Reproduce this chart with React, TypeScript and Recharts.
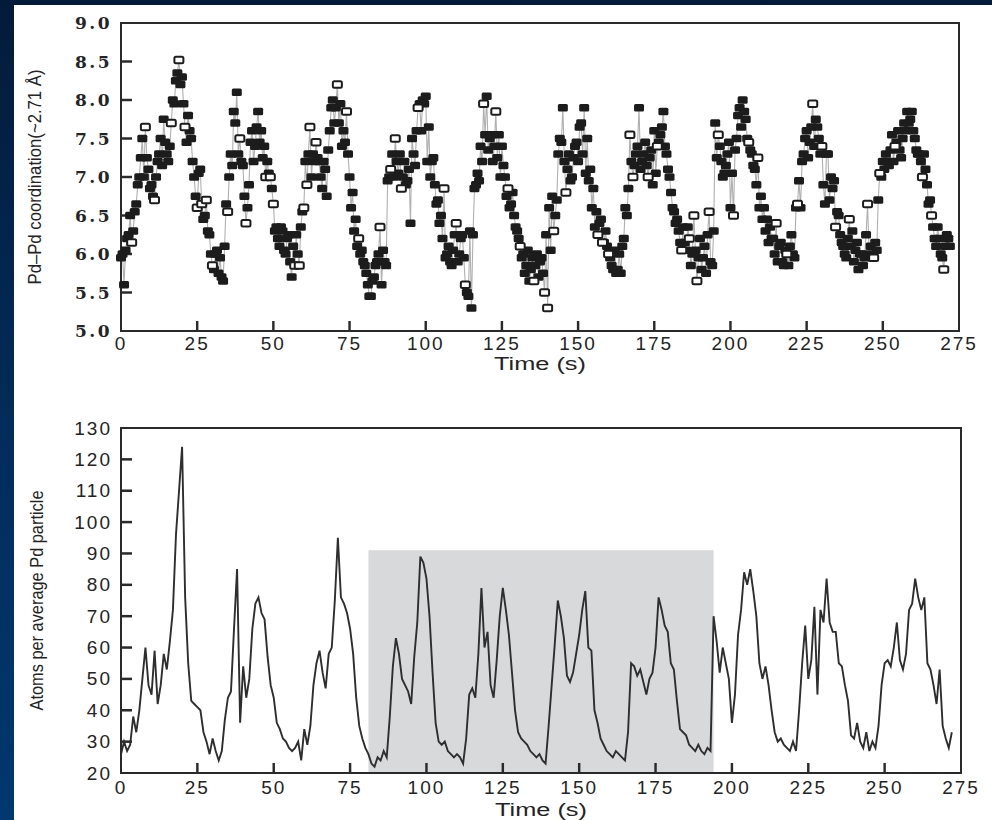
import React from 'react';
import { ComposedChart, Line, Scatter, XAxis, YAxis, ReferenceArea } from 'recharts';

// shared time axis (s)
const timeTicks = [0, 25, 50, 75, 100, 125, 150, 175, 200, 225, 250, 275];
const coordTicks = [5, 5.5, 6, 6.5, 7, 7.5, 8, 8.5, 9];
const atomTicks = [20, 30, 40, 50, 60, 70, 80, 90, 100, 110, 120, 130];

// Pd–Pd coordination on whole seconds, t = 0 … 272 s
const coordination = [
  5.95, 5.6, 6.2, 6.5, 6.3, 6.65, 7.0, 7.5, 7.65, 7.1,
  6.9, 6.7, 7.2, 7.5, 7.75, 7.3, 7.4, 8.0, 8.25, 8.52,
  8.3, 7.65, 7.8, 7.5, 7.0, 6.6, 7.1, 6.45, 6.7, 6.25,
  5.85, 6.0, 5.75, 5.7, 6.1, 6.55, 7.3, 7.85, 8.1, 7.5,
  7.15, 6.4, 6.9, 7.6, 7.4, 7.85, 7.6, 7.4, 7.2, 7.0,
  6.65, 6.35, 6.1, 6.3, 6.0, 6.25, 5.7, 5.85, 6.0, 6.35,
  6.6, 6.9, 7.65, 7.3, 7.45, 7.2, 6.85, 7.1, 7.35, 7.9,
  7.7, 8.2, 7.95, 7.6, 7.85, 7.0, 6.8, 6.45, 6.2, 6.05,
  5.85, 5.6, 5.45, 5.7, 5.9, 6.35, 6.05, 5.85, 7.0, 7.3,
  7.5, 7.05, 6.85, 7.2, 6.95, 6.4, 7.3, 7.6, 7.95, 8.0,
  8.05, 7.65, 7.2, 6.9, 6.7, 6.5, 6.85, 6.0, 5.9, 6.05,
  6.4, 6.0, 6.25, 5.6, 5.45, 5.3, 6.85, 7.05, 7.4, 7.95,
  8.05, 7.5, 7.2, 7.85, 7.55, 7.4, 7.0, 6.85, 6.65, 6.5,
  6.3, 6.1, 6.0, 5.85, 5.65, 5.95, 5.85, 5.7, 5.95, 5.5,
  5.3, 6.05, 6.3, 6.7, 7.5, 7.9, 6.8, 7.3, 7.0, 7.4,
  7.2, 7.7, 7.9, 7.5, 7.1, 6.85, 6.55, 6.4, 6.15, 6.3,
  6.0, 5.85, 6.05, 5.8, 5.75, 6.2, 6.5, 7.55, 7.0, 7.3,
  7.9, 7.2, 7.45, 7.0, 7.35, 7.6, 7.4, 7.55, 7.85, 7.3,
  7.0, 6.6, 6.4, 6.3, 6.05, 6.15, 6.35, 5.85, 6.5, 5.65,
  6.2, 5.95, 5.75, 6.55, 5.85, 7.7, 7.55, 7.2, 7.05, 7.3,
  6.6, 6.5, 7.5, 7.9, 8.0, 7.75, 7.45, 7.3, 7.1, 7.25,
  6.75, 6.6, 6.45, 6.35, 6.2, 6.4, 6.1, 5.9, 6.05, 5.85,
  6.25, 5.95, 6.65, 6.6, 7.3, 7.6, 7.45, 7.95, 7.75, 7.5,
  7.4, 6.65, 7.3, 7.0, 6.95, 6.55, 6.25, 6.1, 5.95, 6.45,
  6.3, 6.05, 5.8, 6.0, 5.95, 6.65, 6.1, 5.95, 6.05, 7.05,
  7.2, 7.3, 7.15, 7.55, 7.4, 7.6, 7.25, 7.7, 7.85, 7.75,
  7.6, 7.35, 7.3, 7.0, 7.1, 6.65, 6.5, 6.2, 6.35, 6.0,
  5.8, 6.25, 6.1,
];

// Pd–Pd coordination on half seconds, t = 0.5 … 271.5 s
const coordinationHalf = [
  6.0, 6.05, 6.25, 6.15, 6.55, 6.9, 7.25, 7.0, 7.25, 6.85,
  6.75, 7.0, 7.3, 7.15, 7.45, 7.2, 7.7, 7.95, 8.35, 8.2,
  7.95, 7.45, 7.6, 7.2, 6.75, 7.05, 6.65, 6.5, 6.3, 6.0,
  5.8, 6.05, 5.95, 5.65, 6.65, 7.0, 7.15, 7.7, 7.3, 7.2,
  6.75, 6.6, 7.45, 7.2, 7.65, 7.45, 7.25, 7.0, 7.05, 6.85,
  6.3, 6.2, 6.35, 6.05, 6.2, 5.9, 6.1, 6.25, 5.85, 6.55,
  7.2, 7.3, 7.0, 7.2, 7.25, 7.0, 7.2, 6.75, 7.6, 8.0,
  7.9, 7.7, 7.4, 7.45, 7.3, 6.6, 6.3, 6.1, 6.0, 5.9,
  5.75, 5.45, 5.65, 5.85, 6.0, 5.6, 5.9, 6.95, 7.1, 7.0,
  7.2, 7.3, 7.0, 6.9, 7.1, 7.5, 7.15, 7.9, 7.6, 7.95,
  7.2, 7.0, 7.25, 6.65, 6.4, 6.2, 5.95, 6.1, 5.85, 6.25,
  5.9, 6.2, 5.95, 5.5, 6.3, 6.25, 6.9, 6.95, 7.2, 7.55,
  7.35, 7.55, 7.4, 7.25, 7.0, 7.15, 6.75, 6.6, 6.8, 6.35,
  6.2, 5.95, 5.75, 6.05, 5.8, 5.65, 6.0, 5.9, 5.75, 6.25,
  6.6, 6.75, 6.5, 7.3, 7.45, 7.2, 7.1, 6.95, 7.25, 7.45,
  7.65, 7.3, 7.05, 6.95, 6.6, 6.35, 6.25, 6.45, 6.15, 6.1,
  5.95, 5.8, 5.75, 6.0, 6.1, 6.6, 6.85, 7.2, 7.15, 7.4,
  7.1, 7.3, 7.15, 7.25, 6.9, 7.05, 7.45, 7.65, 7.4, 7.1,
  6.8, 6.55, 6.45, 6.15, 6.35, 6.05, 6.2, 6.0, 6.05, 5.95,
  5.8, 6.1, 6.25, 5.9, 6.3, 7.25, 7.4, 7.0, 7.15, 7.45,
  7.05, 7.35, 7.8, 7.65, 7.85, 7.5, 7.35, 7.15, 6.9, 6.6,
  6.45, 6.3, 6.15, 6.2, 6.0, 5.9, 6.15, 5.85, 6.0, 6.1,
  6.0, 6.6, 6.95, 7.2, 7.5, 7.25, 7.65, 7.4, 7.65, 7.3,
  6.9, 7.3, 6.7, 6.85, 6.35, 6.5, 6.15, 6.0, 6.2, 6.1,
  5.9, 6.15, 6.0, 5.85, 6.25, 6.0, 5.95, 6.15, 6.7, 7.0,
  7.1, 7.2, 7.35, 7.2, 7.45, 7.35, 7.5, 7.6, 7.7, 7.85,
  7.5, 7.3, 7.2, 7.3, 6.9, 6.7, 6.35, 6.1, 6.2, 5.95,
  6.1, 6.2,
];

// samples drawn with hollow markers (s)
const openMarkerTimes = [
  8, 11, 19, 21, 25, 28, 30, 35, 39, 41, 49, 50, 57, 60, 61, 62, 64, 71, 74,
  78, 85, 90, 92, 106, 110, 113, 119, 123, 127, 131, 139, 140, 142, 146, 158,
  160, 167, 168, 173, 176, 184, 188, 189, 193, 196, 201, 206, 209, 215, 222,
  227, 230, 239, 245, 247, 249, 254, 263, 266, 270,
  3.5, 16.5, 26.5, 47.5, 58.5, 88.5, 97.5, 135.5, 156.5, 186.5, 218.5, 234.5,
];

// atoms per average Pd particle on whole seconds, t = 0 … 272 s
const atomsPerParticle = [
  26, 30, 27, 29, 38, 33, 40, 50, 60, 48,
  45, 59, 42, 48, 58, 53, 62, 72, 96, 110,
  124, 76, 55, 43, 42, 41, 40, 33, 30, 26,
  31, 27, 24, 27, 37, 44, 46, 66, 85, 36,
  54, 44, 50, 66, 74, 76, 71, 69, 57, 48,
  44, 36, 34, 31, 30, 28, 27, 28, 30, 24,
  34, 29, 35, 48, 55, 59, 52, 47, 58, 60,
  75, 95, 76, 74, 71, 66, 58, 44, 35, 31,
  28, 26, 23, 22, 25, 24, 27, 25, 38, 54,
  63, 58, 50, 48, 46, 42, 57, 68, 89, 87,
  82, 70, 52, 36, 30, 29, 30, 27, 26, 25,
  26, 25, 23, 31, 45, 47, 44, 58, 79, 60,
  65, 48, 44, 56, 70, 79, 72, 64, 52, 40,
  33, 31, 30, 29, 27, 26, 25, 26, 24, 23,
  35, 48, 61, 75, 70, 63, 51, 49, 52, 58,
  64, 72, 78, 60, 59, 40, 36, 31, 29, 27,
  26, 25, 27, 26, 25, 24, 33, 55, 54, 51,
  53, 49, 45, 50, 52, 60, 76, 72, 67, 65,
  55, 53, 43, 34, 33, 32, 29, 28, 27, 29,
  27, 26, 28, 27, 70, 62, 52, 60, 55, 50,
  36, 45, 64, 72, 84, 80, 85, 78, 70, 55,
  50, 54, 48, 40, 33, 30, 31, 29, 28, 27,
  30, 27, 40, 55, 67, 50, 56, 73, 45, 72,
  68, 82, 68, 65, 65, 55, 54, 48, 43, 32,
  31, 36, 30, 28, 33, 27, 30, 28, 35, 48,
  55, 56, 54, 60, 68, 56, 53, 58, 72, 74,
  82, 76, 72, 76, 55, 53, 48, 42, 53, 35,
  31, 28, 33,
];

// highlighted window in the lower panel
const shadedWindow = { start: 81, end: 194, top: 91 };

const coordRows = [
  ...coordination.map((v, i) => ({ t: i, v })),
  ...coordinationHalf.map((v, i) => ({ t: i + 0.5, v })),
].sort((a, b) => a.t - b.t);
const openSet = new Set(openMarkerTimes);
const filledRows = coordRows.filter((r) => !openSet.has(r.t));
const openRows = coordRows.filter((r) => openSet.has(r.t));
const atomRows = atomsPerParticle.map((v, t) => ({ t, v }));

const INK = '#242424';
const FRAME = '#2a2a2a';
const SANS = '"Liberation Sans", Arial, sans-serif';
const SERIF = '"DejaVu Serif", serif';

// tick label offsets from the axis line
const X_GAP_TOP = 5;
const X_GAP_BOTTOM = 7;
const Y_GAP = 9;

const makeXTick = () => (p: any) => (
  <text
    x={p.x}
    y={p.y}
    dy="0.72em"
    textAnchor="middle"
    fill={INK}
    fontSize={19}
    fontFamily={SANS}
    letterSpacing={2}
  >
    {p.payload.value}
  </text>
);

const makeYTick = (font: any, fmt: (v: number) => string) => (p: any) => (
  <text x={p.x} y={p.y} textAnchor="end" dominantBaseline="central" fill={INK} {...font}>
    {fmt(p.payload.value)}
  </text>
);

const coordFont = { fontSize: 17, fontFamily: SERIF, fontWeight: 700, letterSpacing: 2.5 };
const atomFont = { fontSize: 19, fontFamily: SANS, letterSpacing: 2 };

// inward tick marks as thin filled areas; sizes are in each panel's data units
const tickMarks = (
  key: string,
  yTicks: number[],
  yMin: number,
  xHalf: number,
  xLen: number,
  yHalf: number,
  yLen: number,
) => [
  ...timeTicks.slice(1, -1).map((t) => (
    <ReferenceArea
      key={`${key}x${t}`}
      x1={t - xHalf}
      x2={t + xHalf}
      y1={yMin}
      y2={yMin + yLen}
      fill={FRAME}
      fillOpacity={1}
      stroke="none"
    />
  )),
  ...yTicks.slice(1, -1).map((v) => (
    <ReferenceArea
      key={`${key}y${v}`}
      x1={0}
      x2={xLen}
      y1={v - yHalf}
      y2={v + yHalf}
      fill={FRAME}
      fillOpacity={1}
      stroke="none"
    />
  )),
];

const FilledMark = (p: any) => (
  <rect x={p.cx - 5} y={p.cy - 3.75} width={10} height={7.5} rx={1.5} fill="#1c1c1c" />
);
const OpenMark = (p: any) => (
  <rect
    x={p.cx - 4.5}
    y={p.cy - 3.25}
    width={9}
    height={6.5}
    rx={1.5}
    fill="#fff"
    stroke="#1c1c1c"
    strokeWidth={2}
  />
);

const yTitle = (text: string, x: number, len: number) => (props: any) => {
  const vb = props.viewBox;
  const cy = vb.y + vb.height / 2;
  return (
    <text
      x={x}
      y={cy}
      transform={`rotate(-90, ${x}, ${cy})`}
      textAnchor="middle"
      dominantBaseline="central"
      textLength={len}
      lengthAdjust="spacingAndGlyphs"
      fill={INK}
      fontSize={19}
      fontFamily={SANS}
    >
      {text}
    </text>
  );
};

const xTitle = (dy: number) => (props: any) => {
  const vb = props.viewBox;
  return (
    <text
      x={vb.x + vb.width / 2}
      y={vb.y + dy}
      textAnchor="middle"
      dominantBaseline="central"
      textLength={92}
      lengthAdjust="spacingAndGlyphs"
      fill={INK}
      fontSize={18}
      fontFamily={SANS}
    >
      Time (s)
    </text>
  );
};

const axisLine = { stroke: FRAME, strokeWidth: 2 };

function CoordinationPanel() {
  return (
    <ComposedChart
      width={992}
      height={400}
      data={coordRows}
      margin={{ top: 23, right: 33, bottom: 0, left: 0 }}
    >
      <XAxis
        dataKey="t"
        type="number"
        domain={[0, 275]}
        ticks={timeTicks}
        interval={0}
        height={69}
        axisLine={axisLine}
        tickLine={false}
        tickSize={0}
        tickMargin={X_GAP_TOP}
        tick={makeXTick()}
        label={xTitle(33)}
      />
      <YAxis
        type="number"
        domain={[5, 9]}
        ticks={coordTicks}
        interval={0}
        width={121}
        axisLine={axisLine}
        tickLine={false}
        tickSize={0}
        tickMargin={Y_GAP}
        tick={makeYTick(coordFont, (v) => v.toFixed(1))}
        label={yTitle('Pd–Pd coordination(~2.71 Å)', 34, 215)}
      />
      <ReferenceArea
        x1={0}
        x2={275}
        y1={5}
        y2={9}
        fill="none"
        stroke={FRAME}
        strokeWidth={2}
      />
      {tickMarks('c', coordTicks, 5, 0.4, 3.6, 0.016, 0.13)}
      <Line
        dataKey="v"
        type="linear"
        stroke="#b0b0b0"
        strokeWidth={1.1}
        dot={false}
        isAnimationActive={false}
      />
      <Scatter data={filledRows} dataKey="v" shape={FilledMark} isAnimationActive={false} />
      <Scatter data={openRows} dataKey="v" shape={OpenMark} isAnimationActive={false} />
    </ComposedChart>
  );
}

function AtomsPanel() {
  return (
    <ComposedChart
      width={992}
      height={420}
      data={atomRows}
      margin={{ top: 28, right: 31, bottom: 0, left: 0 }}
    >
      <XAxis
        dataKey="t"
        type="number"
        domain={[0, 275]}
        ticks={timeTicks}
        interval={0}
        height={47}
        axisLine={axisLine}
        tickLine={false}
        tickSize={0}
        tickMargin={X_GAP_BOTTOM}
        tick={makeXTick()}
        label={xTitle(37)}
      />
      <YAxis
        type="number"
        domain={[20, 130]}
        ticks={atomTicks}
        interval={0}
        width={121}
        axisLine={axisLine}
        tickLine={false}
        tickSize={0}
        tickMargin={Y_GAP}
        tick={makeYTick(atomFont, (v) => String(v))}
        label={yTitle('Atoms per average Pd particle', 36, 220)}
      />
      <ReferenceArea
        x1={shadedWindow.start}
        x2={shadedWindow.end}
        y1={20}
        y2={shadedWindow.top}
        fill="#d8d9db"
        fillOpacity={1}
        stroke="none"
      />
      <ReferenceArea
        x1={0}
        x2={275}
        y1={20}
        y2={130}
        fill="none"
        stroke={FRAME}
        strokeWidth={2}
      />
      {tickMarks('a', atomTicks, 20, 0.4, 3.6, 0.4, 3.2)}
      <Line
        dataKey="v"
        type="linear"
        stroke="#2e2e2e"
        strokeWidth={1.9}
        dot={false}
        isAnimationActive={false}
      />
    </ComposedChart>
  );
}

export default function App() {
  return (
    <div
      style={{
        position: 'absolute',
        left: 0,
        top: 0,
        width: 992,
        height: 820,
        overflow: 'hidden',
        background: 'linear-gradient(to bottom, #031b3a 0%, #022d5c 55%, #00386f 100%)',
      }}
    >
      <div
        style={{
          position: 'absolute',
          left: 14,
          top: 5,
          width: 978,
          height: 815,
          background: '#fff',
        }}
      />
      <div style={{ position: 'absolute', left: 0, top: 0 }}>
        <CoordinationPanel />
      </div>
      <div style={{ position: 'absolute', left: 0, top: 400 }}>
        <AtomsPanel />
      </div>
    </div>
  );
}
